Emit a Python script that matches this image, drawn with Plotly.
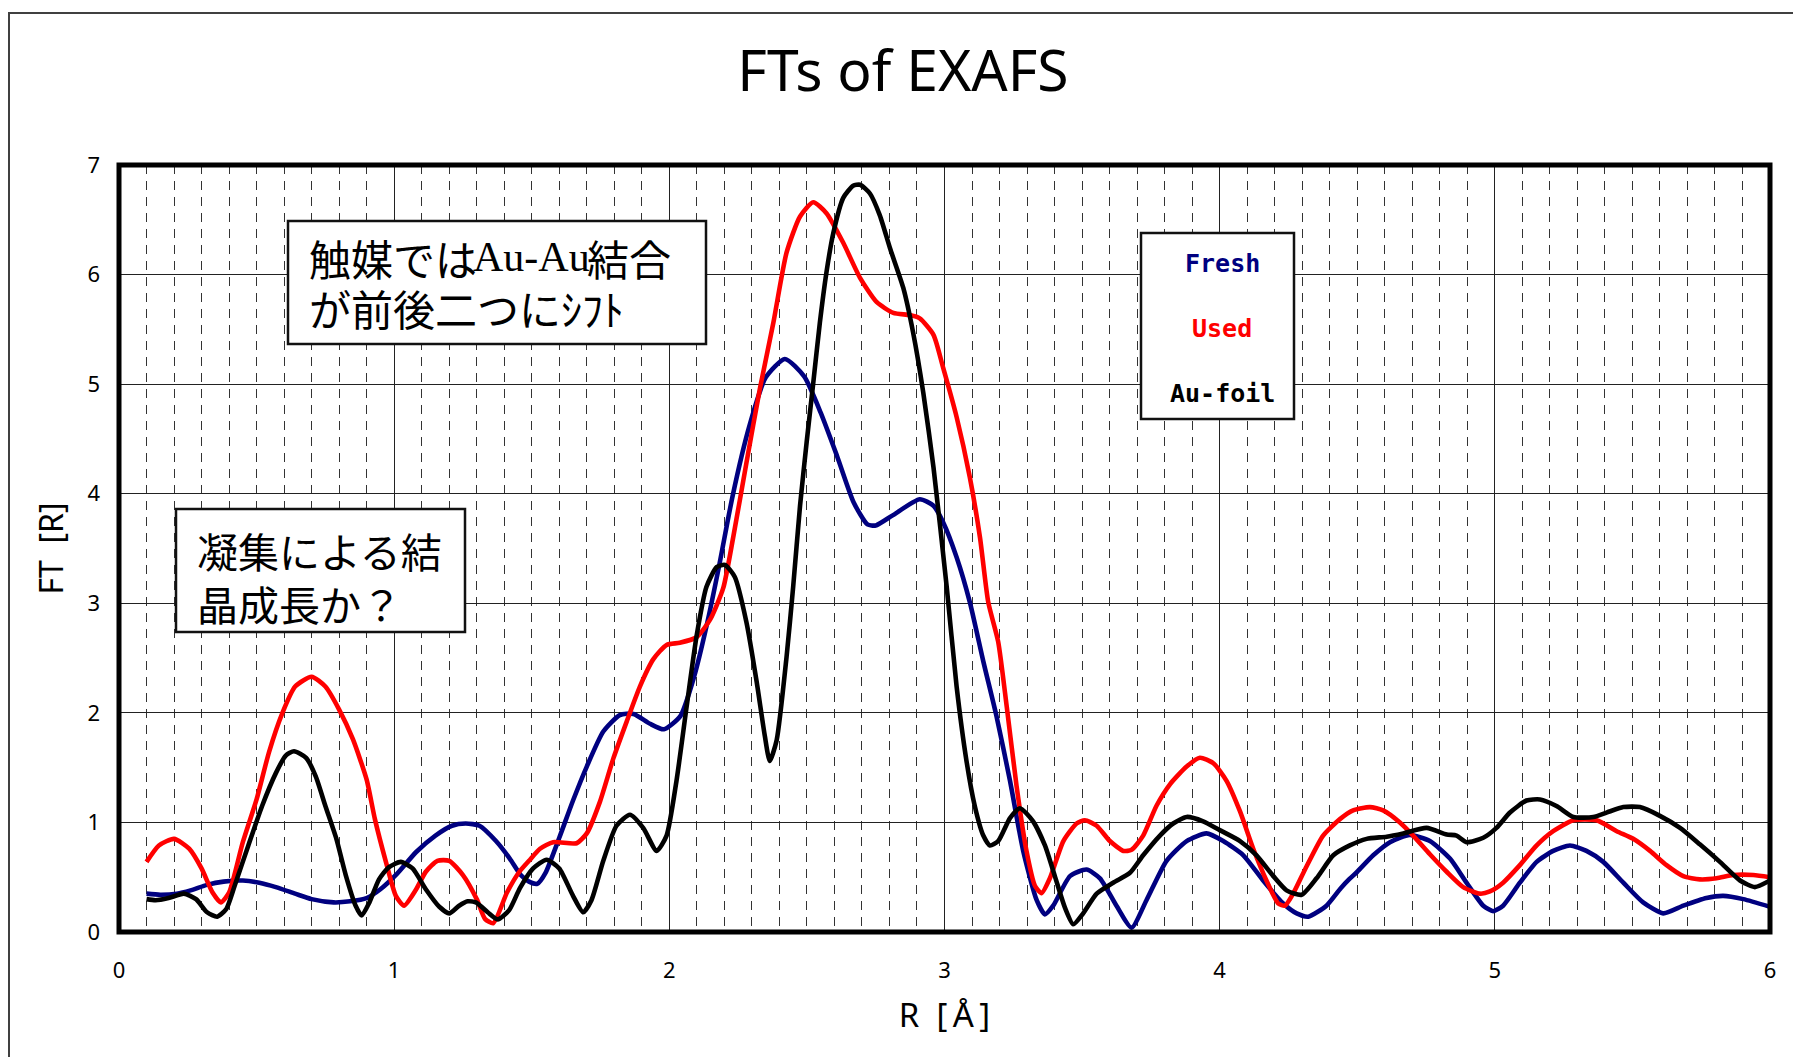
import plotly.graph_objects as go

# --- Fourier-transformed EXAFS magnitudes |FT| vs R ---------------------------
r_fresh = [0.10, 0.15, 0.21, 0.26, 0.32, 0.38, 0.45, 0.51, 0.57, 0.64, 0.70, 0.78, 0.84, 0.90,
           0.95, 1.01, 1.08, 1.15, 1.21, 1.26, 1.31, 1.37, 1.42, 1.46, 1.49, 1.52, 1.55, 1.60,
           1.65, 1.70, 1.76, 1.82, 1.87, 1.93, 1.98, 2.04, 2.09, 2.135, 2.18, 2.23, 2.29, 2.35,
           2.42, 2.49, 2.55, 2.61, 2.67, 2.72, 2.75, 2.81, 2.91, 2.96, 2.995, 3.044, 3.092,
           3.141, 3.189, 3.238, 3.286, 3.335, 3.365, 3.395, 3.456, 3.516, 3.565, 3.625, 3.68,
           3.734, 3.807, 3.88, 3.952, 4.013, 4.086, 4.158, 4.231, 4.28, 4.322, 4.388, 4.44,
           4.47, 4.50, 4.558, 4.619, 4.691, 4.764, 4.837, 4.897, 4.958, 4.994, 5.03, 5.091,
           5.152, 5.212, 5.273, 5.333, 5.394, 5.467, 5.539, 5.612, 5.685, 5.769, 5.83, 5.903,
           6.0]
ft_fresh = [0.35, 0.34, 0.35, 0.38, 0.43, 0.46, 0.47, 0.45, 0.41, 0.35, 0.30, 0.27, 0.28, 0.31,
            0.39, 0.53, 0.73, 0.88, 0.97, 0.99, 0.97, 0.83, 0.67, 0.52, 0.46, 0.44, 0.54, 0.86,
            1.20, 1.51, 1.83, 1.98, 1.99, 1.90, 1.85, 1.97, 2.33, 2.79, 3.33, 3.98, 4.61, 5.06,
            5.23, 5.07, 4.74, 4.34, 3.92, 3.72, 3.71, 3.80, 3.95, 3.89, 3.74, 3.42, 3.01,
            2.47, 1.97, 1.38, 0.74, 0.29, 0.16, 0.24, 0.51, 0.57, 0.49, 0.24, 0.04,
            0.29, 0.65, 0.83, 0.90, 0.83, 0.70, 0.47, 0.26, 0.17, 0.14, 0.24, 0.40,
            0.48, 0.55, 0.70, 0.82, 0.885, 0.83, 0.67, 0.45, 0.24, 0.19, 0.24, 0.45,
            0.64, 0.74, 0.79, 0.74, 0.64, 0.45, 0.27, 0.17, 0.24, 0.31, 0.33, 0.30,
            0.23]

r_used = [0.10, 0.145, 0.20, 0.255, 0.30, 0.34, 0.37, 0.40, 0.45, 0.50, 0.545, 0.594, 0.64,
          0.70, 0.75, 0.80, 0.85, 0.90, 0.93, 0.97, 1.006, 1.036, 1.08, 1.115, 1.157, 1.20,
          1.25, 1.30, 1.33, 1.36, 1.41, 1.455, 1.49, 1.53, 1.578, 1.663, 1.70, 1.748, 1.796,
          1.845, 1.893, 1.942, 1.99, 2.038, 2.099, 2.148, 2.196, 2.232, 2.28, 2.33, 2.378,
          2.426, 2.475, 2.523, 2.571, 2.632, 2.693, 2.753, 2.814, 2.874, 2.91, 2.96, 2.995,
          3.044, 3.092, 3.129, 3.159, 3.195, 3.226, 3.262, 3.298, 3.329, 3.353, 3.383, 3.432,
          3.48, 3.51, 3.553, 3.601, 3.65, 3.68, 3.722, 3.77, 3.82, 3.88, 3.928, 3.977, 4.025,
          4.074, 4.122, 4.17, 4.213, 4.237, 4.267, 4.316, 4.376, 4.437, 4.485, 4.546, 4.594,
          4.655, 4.703, 4.764, 4.825, 4.885, 4.946, 4.982, 5.03, 5.091, 5.152, 5.212, 5.285,
          5.37, 5.443, 5.503, 5.564, 5.624, 5.685, 5.745, 5.806, 5.866, 5.939, 6.0]
ft_used = [0.64, 0.79, 0.85, 0.76, 0.58, 0.36, 0.27, 0.36, 0.82, 1.21, 1.64, 2.00, 2.24,
           2.33, 2.24, 2.03, 1.76, 1.39, 1.03, 0.64, 0.33, 0.24, 0.39, 0.55, 0.65, 0.65,
           0.52, 0.30, 0.12, 0.08, 0.36, 0.55, 0.65, 0.76, 0.82, 0.81, 0.90, 1.19, 1.58,
           1.92, 2.24, 2.49, 2.62, 2.64, 2.69, 2.85, 3.14, 3.60, 4.28, 4.97, 5.56,
           6.20, 6.53, 6.66, 6.56, 6.29, 5.97, 5.75, 5.65, 5.63, 5.60, 5.45, 5.15,
           4.70, 4.15, 3.60, 3.01, 2.65, 2.06, 1.33, 0.74, 0.42, 0.355, 0.49, 0.83,
           0.99, 1.02, 0.97, 0.83, 0.74, 0.75, 0.88, 1.15, 1.35, 1.51, 1.59, 1.54, 1.38,
           1.10, 0.76, 0.47, 0.26, 0.24, 0.35, 0.60, 0.88, 1.03, 1.11, 1.14, 1.11,
           1.00, 0.88, 0.71, 0.55, 0.41, 0.35, 0.37, 0.45, 0.61, 0.79, 0.92, 1.02,
           1.02, 0.92, 0.85, 0.74, 0.61, 0.51, 0.48, 0.49, 0.52, 0.52, 0.50]

r_foil = [0.10, 0.133, 0.18, 0.236, 0.28, 0.32, 0.357, 0.39, 0.42, 0.47, 0.52, 0.57, 0.606,
          0.636, 0.68, 0.715, 0.75, 0.79, 0.824, 0.86, 0.882, 0.91, 0.945, 0.98, 1.024, 1.067,
          1.115, 1.164, 1.20, 1.236, 1.267, 1.297, 1.34, 1.376, 1.418, 1.457, 1.505, 1.554,
          1.60, 1.65, 1.687, 1.717, 1.76, 1.808, 1.857, 1.905, 1.954, 1.99, 2.026, 2.063,
          2.099, 2.135, 2.172, 2.202, 2.238, 2.28, 2.317, 2.347, 2.365, 2.39, 2.426, 2.45,
          2.475, 2.499, 2.523, 2.547, 2.571, 2.596, 2.632, 2.668, 2.693, 2.729, 2.765, 2.802,
          2.85, 2.886, 2.923, 2.96, 3.008, 3.044, 3.08, 3.11, 3.141, 3.165, 3.195, 3.238,
          3.274, 3.322, 3.365, 3.401, 3.438, 3.468, 3.504, 3.553, 3.613, 3.674, 3.722, 3.783,
          3.831, 3.88, 3.94, 4.0, 4.074, 4.134, 4.195, 4.243, 4.298, 4.352, 4.413, 4.473,
          4.534, 4.607, 4.667, 4.752, 4.825, 4.861, 4.897, 4.958, 5.006, 5.055, 5.115, 5.164,
          5.224, 5.285, 5.358, 5.406, 5.467, 5.527, 5.60, 5.673, 5.745, 5.818, 5.891, 5.945,
          6.0]
ft_foil = [0.30, 0.29, 0.31, 0.35, 0.30, 0.18, 0.14, 0.21, 0.42, 0.79, 1.15, 1.45, 1.61,
           1.65, 1.59, 1.42, 1.15, 0.85, 0.52, 0.24, 0.15, 0.27, 0.48, 0.59, 0.64, 0.58,
           0.39, 0.23, 0.17, 0.24, 0.28, 0.27, 0.18, 0.115, 0.20, 0.40, 0.58, 0.66,
           0.58, 0.33, 0.18, 0.29, 0.65, 0.97, 1.07, 0.95, 0.74, 0.88, 1.38, 2.06,
           2.70, 3.15, 3.33, 3.35, 3.24, 2.83, 2.29, 1.79, 1.56, 1.75, 2.51, 3.15,
           3.89, 4.47, 5.01, 5.56, 6.02, 6.38, 6.70, 6.81, 6.82, 6.74, 6.54, 6.24,
           5.88, 5.47, 4.92, 4.24, 3.15, 2.24, 1.56, 1.15, 0.88, 0.79, 0.83, 1.04,
           1.13, 1.01, 0.79, 0.51, 0.22, 0.07, 0.17, 0.35, 0.45, 0.54, 0.70, 0.88,
           0.99, 1.05, 1.01, 0.93, 0.83, 0.70, 0.51, 0.38, 0.34, 0.49, 0.70, 0.79,
           0.85, 0.87, 0.90, 0.95, 0.89, 0.88, 0.82, 0.86, 0.95, 1.09, 1.20, 1.21,
           1.15, 1.05, 1.05, 1.09, 1.14, 1.14, 1.06, 0.95, 0.80, 0.64, 0.47, 0.41,
           0.47]

series_names = ["Fresh", "Used", "Au-foil"]
series_colors = ["#000080", "#FF0000", "#000000"]

x_ticks = [0, 1, 2, 3, 4, 5, 6]
y_ticks = [0, 1, 2, 3, 4, 5, 6, 7]

# --- figure geometry (pixels) ---------------------------------------------------
W, H = 1793, 1057
L, R, T, B = 119, 1770, 165, 932          # plot-area edges


def px(xp):
    return (xp - L) / (R - L)


def py(yp):
    return (B - yp) / (B - T)


fig = go.Figure()
for (xs, ys), name, color in zip([(r_fresh, ft_fresh), (r_used, ft_used), (r_foil, ft_foil)],
                                 series_names, series_colors):
    fig.add_trace(go.Scatter(
        x=xs, y=ys, mode="lines", name=name,
        line=dict(color=color, width=4.6, shape="spline", smoothing=0.6),
        showlegend=False,
    ))

tick_font = dict(family="Noto Sans", size=22, color="black")
cjk = "Noto Sans CJK JP"
NB = "\u00a0"

fig.update_layout(
    width=W, height=H,
    margin=dict(l=L, r=W - R, t=T, b=H - B, autoexpand=False),
    paper_bgcolor="white", plot_bgcolor="white",
    title=dict(text="FTs of EXAFS", x=903 / W, xanchor="center",
               y=1 - 71 / H, yanchor="middle",
               font=dict(family="Noto Sans", size=57, color="black")),
    xaxis=dict(
        range=[0, 6], tickmode="array", tickvals=x_ticks, ticktext=[str(v) for v in x_ticks],
        showgrid=True, gridcolor="#222222", gridwidth=1,
        minor=dict(dtick=0.1, tick0=0, showgrid=True, gridcolor="#333333",
                   griddash="9px,7px", gridwidth=1, ticks=""),
        showline=False, zeroline=False, ticks="", ticklabelstandoff=23, tickfont=tick_font,
        title=dict(text=f"R{NB}{NB}[\u2009Å\u2009]", standoff=20,
                   font=dict(family="Noto Sans", size=33, color="black")),
        automargin=False,
    ),
    yaxis=dict(
        range=[0, 7], tickmode="array", tickvals=y_ticks, ticktext=[str(v) for v in y_ticks],
        showgrid=True, gridcolor="#222222", gridwidth=1,
        showline=False, zeroline=False, ticks="", ticklabelstandoff=18, tickfont=tick_font,
        title=dict(text=f"FT{NB}{NB}[R]", standoff=14,
                   font=dict(family="Noto Sans", size=32, color="black")),
        automargin=False,
    ),
)

shapes = []
# outer chart-area frame
shapes.append(dict(type="rect", xref="paper", yref="paper",
                   x0=px(9), x1=px(1805), y0=py(1075), y1=py(13),
                   line=dict(color="#404040", width=2), fillcolor="rgba(0,0,0,0)",
                   layer="below"))
# heavy frame around the plot area, centred on its edges
shapes.append(dict(type="rect", xref="paper", yref="paper", x0=0, x1=1, y0=0, y1=1,
                   line=dict(color="black", width=5), fillcolor="rgba(0,0,0,0)",
                   layer="above"))
# callout boxes and the label box
for (x0, y0, x1, y1) in [(288, 221, 706, 344), (176, 509, 465, 632), (1141, 233, 1294, 419)]:
    shapes.append(dict(type="rect", xref="paper", yref="paper",
                       x0=px(x0), x1=px(x1), y0=py(y1), y1=py(y0),
                       line=dict(color="#111111", width=2.5), fillcolor="white",
                       layer="above"))
fig.update_layout(shapes=shapes)

# callout texts: (text, font family, left x px, centre y px, size)
callout_runs = [
    ("触媒では", cjk, 307, 257, 42),
    ("Au-Au", "Liberation Serif", 471, 257, 42),
    ("結合", cjk, 585, 257, 42),
    ("が前後二つにｼﾌﾄ", cjk, 307, 307, 42),
    ("凝集による結", cjk, 195, 550, 41),
    ("晶成長か？", cjk, 195, 603, 41),
]
annotations = []
for text, family, xl, yc, size in callout_runs:
    annotations.append(dict(text=text, x=px(xl), y=py(yc), xanchor="left", yanchor="middle",
                            align="left", font=dict(family=family, size=size, color="black")))
for name, color, yc in zip(series_names, series_colors, [263, 328, 393]):
    annotations.append(dict(
        text=f"<b>{name}</b>", x=px(1222), y=py(yc), xanchor="center", yanchor="middle",
        font=dict(family="DejaVu Sans Mono", size=25, color=color)))
for a in annotations:
    a.update(xref="paper", yref="paper", showarrow=False)
fig.update_layout(annotations=annotations)

fig.write_html("out.html")
